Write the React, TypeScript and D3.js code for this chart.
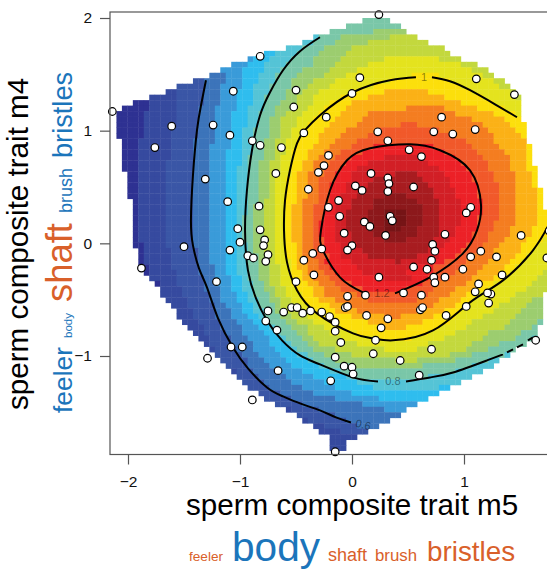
import React, { useRef, useEffect } from "react";
import * as d3 from "d3";

// surface, row by row from the top.
// each row: first column, then runs of "level + column where the run stops"
const heatRows = [
  "46 h51",
  "43 h53",
  "40 h48 i54",
  "37 g38 h42 i51 j56",
  "35 g37 h41 i47 j58",
  "32 g35 h39 i44 j61",
  "28 f30 g34 h38 i43 j62",
  "25 e26 f29 g33 h37 i42 j50 k60 j64",
  "22 e25 f28 g32 h37 i41 j47 k64 j67",
  "20 e24 f28 g31 h35 i40 j45 k66 j69",
  "18 d21 e24 f27 g30 h34 i39 j43 k55 l60 k68 j70",
  "15 c17 d21 e24 f27 g30 h33 i37 j41 k51 l62 k70 j72",
  "12 c17 d20 e24 f26 g29 h33 i36 j40 k48 l64 k71 j73",
  "10 b12 c17 d20 e23 f26 g29 h32 i35 j38 k44 l50 m58 l66 k73 j74",
  "7 b12 c17 d20 e23 f26 g28 h32 i34 j37 k42 l47 m61 l68 k74 j75",
  "4 a7 b12 c17 d20 e23 f26 g28 h31 i34 j37 k40 l44 m64 l70 k75",
  "2 a7 b12 c16 d19 e23 f25 g28 h30 i33 j36 k39 l43 m54 n61 m67 l72 k75",
  "1 a6 b12 c16 d19 e22 f25 g27 h30 i32 j35 k38 l42 m47 n63 m70 l74 k75",
  "1 a6 b12 c16 d19 e22 f25 g27 h29 i31 j34 k37 l41 m46 n66 m72 l75",
  "1 a6 b12 c16 d19 e22 f25 g27 h29 i31 j34 k36 l40 m45 n53 o56 n68 m73 l76",
  "1 a6 b11 c16 d19 e22 f24 g26 h29 i31 j33 k35 l39 m43 n49 o60 n69 m74 l76",
  "1 a6 b11 c16 d19 e22 f24 g26 h29 i31 j33 k35 l38 m42 n47 o63 n70 m75 l76",
  "2 a5 b11 c15 d19 e22 f24 g26 h28 i30 j32 k34 l38 m41 n45 o65 n70 m76",
  "2 a5 b11 c15 d18 e22 f24 g26 h28 i30 j32 k34 l37 m40 n44 o48 p59 o66 n71 m76 l77",
  "2 a5 b11 c15 d18 e21 f24 g26 h28 i30 j32 k33 l36 m39 n42 o46 p61 o67 n72 m76 l77",
  "2 a5 b11 c15 d18 e21 f24 g25 h28 i30 j31 k33 l36 m38 n41 o44 p50 q56 p63 o68 n73 m76 l77",
  "2 a5 b10 c15 d18 e21 f24 g25 h27 i29 j31 k33 l35 m37 n40 o43 p47 q58 p64 o69 n73 m76 l77",
  "2 a5 b10 c15 d18 e21 f23 g25 h27 i29 j31 k33 l35 m37 n39 o42 p45 q60 p65 o69 n73 m76 l78",
  "3 a5 b10 c15 d18 e21 f23 g25 h27 i29 j31 k33 l34 m36 n39 o41 p44 q52 r56 q61 p66 o70 n74 m77 l78",
  "3 a5 b10 c15 d18 e21 f23 g25 h27 i29 j30 k32 l34 m36 n38 o41 p44 q48 r57 q62 p66 o70 n74 m77 l78",
  "3 a5 b10 c15 d18 e21 f23 g25 h27 i29 j30 k32 l34 m36 n38 o40 p43 q47 r58 q62 p67 o71 n74 m77 l78",
  "3 a5 b10 c15 d18 e21 f23 g25 h27 i29 j30 k32 l34 m36 n38 o40 p43 q46 r59 q63 p67 o71 n74 m78 l79",
  "3 a5 b10 c15 d18 e21 f23 g25 h27 i29 j30 k32 l34 m36 n38 o40 p42 q45 r50 s54 r59 q63 p67 o71 n74 m78 l79",
  "4 a5 b10 c15 d18 e21 f23 g25 h27 i28 j30 k32 l34 m35 n38 o40 p41 q44 r48 s56 r60 q64 p68 o71 n74 m78 l79",
  "4 a5 b10 c15 d18 e21 f23 g25 h26 i28 j30 k32 l33 m35 n37 o39 p41 q44 r48 s57 r60 q64 p68 o71 n74 m78 l79",
  "4 a5 b10 c15 d18 e21 f23 g25 h26 i28 j30 k32 l33 m35 n37 o39 p41 q43 r47 s50 t54 s57 r60 q64 p68 o71 n74 m78 l80",
  "4 a5 b10 c15 d18 e21 f23 g24 h26 i28 j30 k32 l33 m35 n37 o39 p41 q43 r47 s50 t54 s57 r60 q64 p67 o71 n74 m78 l80",
  "4 a5 b10 c15 d18 e21 f23 g24 h26 i28 j30 k32 l33 m35 n37 o38 p41 q43 r47 s50 t54 s57 r60 q64 p67 o70 n74 m78 l80",
  "4 a5 b10 c15 d18 e21 f23 g24 h26 i28 j30 k32 l33 m35 n37 o38 p41 q43 r47 s50 t53 s56 r60 q63 p67 o70 n73 m77 l80",
  "4 a5 b10 c15 d18 e21 f23 g24 h26 i28 j30 k32 l33 m35 n37 o38 p41 q44 r48 s56 r60 q63 p66 o69 n73 m77 l80",
  "4 a5 b10 c15 d18 e21 f23 g24 h26 i28 j30 k32 l33 m35 n37 o39 p41 q44 r50 s54 r59 q62 p66 o69 n72 m76 l79 k80",
  "4 a6 b10 c15 d18 e21 f23 g25 h26 i28 j30 k32 l34 m35 n37 o39 p42 q45 r58 q61 p65 o68 n71 m75 l78 k80",
  "5 a6 b11 c16 d18 e21 f23 g25 h26 i28 j30 k32 l34 m35 n37 o39 p42 q46 r58 q60 p64 o67 n70 m75 l77 k80",
  "5 a6 b11 c16 d18 e21 f23 g25 h27 i28 j30 k32 l34 m35 n37 o40 p42 q47 r56 q60 p63 o66 n70 m74 l76 k80",
  "5 a6 b11 c16 d18 e21 f23 g25 h27 i29 j30 k33 l34 m35 n38 o39 p44 q52 r53 q58 p61 o65 n69 m73 l75 k80",
  "5 a7 b11 c16 d19 e21 f23 g25 h27 i29 j31 k33 l34 m36 n38 o40 p45 q56 p59 o64 n68 m72 l74 k80",
  "6 a7 b12 c16 d19 e21 f23 g25 h27 i29 j31 k33 l35 m36 n39 o41 p46 q54 p59 o63 n67 m71 l73 k79 j80",
  "7 b12 c17 d19 e22 f24 g25 h27 i29 j31 k33 l35 m37 n40 o42 p49 q55 p58 o62 n66 m70 l72 k78 j80",
  "8 a9 b12 c17 d19 e22 f24 g26 h28 i29 j31 k33 l36 m38 n41 o44 p57 o60 n65 m68 l70 k77 j80",
  "9 b13 c17 d20 e22 f24 g26 h28 i30 j32 k34 l37 m39 n42 o46 p54 o59 n63 m67 l69 k76 j80",
  "9 b13 c18 d20 e23 f25 g26 h29 i30 j32 k35 l37 m39 n45 o58 n62 m65 l67 k74 j79",
  "10 b14 c18 d20 e23 f25 g27 h29 i31 j33 k35 l38 m41 n47 o56 n60 m64 l66 k73 j77 i79",
  "11 b14 c19 d21 e24 f26 g27 h30 i31 j34 k36 l40 m43 n59 m63 l65 k71 j76 i79",
  "12 b15 c19 d22 e24 f26 g28 h30 i32 j35 k37 l41 m45 n56 m61 l64 k70 j75 i79",
  "12 b15 c19 d22 e25 f27 g28 h31 i33 j36 k38 l44 m50 n53 m59 l63 k68 j74 i79",
  "13 b16 c20 d23 e26 f28 g29 h32 i34 j37 k40 l47 m57 l62 k66 j73 i78 h79",
  "14 b17 c20 d24 e27 f29 g30 h33 i36 j39 k42 l50 m54 l60 k65 j72 i77 h78",
  "15 b17 c21 d24 e28 f30 g31 h34 i36 j40 k45 l58 k63 j69 i75 h78",
  "16 b18 c22 d25 e29 f31 g32 h35 i37 j42 k49 l55 k61 j68 i74 h77 g78",
  "17 b18 c22 d26 e29 f32 g33 h36 i38 j45 k58 j66 i71 h76",
  "18 b19 c23 d26 e30 f33 g34 h37 i41 j50 k56 j65 i69 h74",
  "19 c24 d27 e31 f34 g36 h39 i44 j62 i66 h72 g73",
  "20 c25 d28 e32 f36 g37 h41 i52 j56 i63 h69 g71",
  "21 c25 d29 e33 f38 g39 h44 i57 h66 g70",
  "22 b23 c26 d31 e35 f40 g42 h63 g68",
  "23 c27 d32 e37 f43 g44 h58 g66",
  "24 c28 d33 e39 f45 g64",
  "25 c29 d35 e41 f48 g60 f62",
  "27 c31 d37 e44 f60",
  "28 c33 d41 e49 f58",
  "30 c35 d46 e56",
  "32 b33 c38 d50 e54",
  "34 c41 d53",
  "35 b36 c43 d51",
  "37 b39 c45 d49",
  "38 b42 c47",
  "40 b45",
  "40 b43",
  "40 b43",
];

const levelNames = "abcdefghijklmnopqrst".split("");
const levelColors = [
  "#2e3192", "#364a9f", "#3a56a6", "#3c74ba", "#3a9bd9", "#2fbdee", "#55c4d6",
  "#7ac7a8", "#9ccd6f", "#c3d83d", "#e4e31e", "#fcdf0c", "#fbb116", "#f47d20",
  "#f1592a", "#ec2127", "#d21f26", "#a81c20", "#8c181b", "#761416",
];

const gridLeft = -2.152;
const gridTop = 2.0;
const gridStepX = 0.0488;
const gridStepY = 0.0486;

// contour pieces, [m5, m4]
const contour06 = [
  [-1.304, 1.448], [-1.348, 1.226], [-1.384, 1.004], [-1.42, 0.604], [-1.438, 0.204],
  [-1.42, -0.018], [-1.366, -0.222], [-1.295, -0.391], [-1.196, -0.666], [-1.063, -0.924],
  [-0.929, -1.11], [-0.759, -1.279], [-0.616, -1.359], [-0.464, -1.421], [-0.286, -1.483],
  [-0.143, -1.545], [-0.009, -1.59],
];
const contour08a = [
  [-0.286, 1.829], [-0.464, 1.705], [-0.616, 1.536], [-0.732, 1.341], [-0.821, 1.137],
  [-0.893, 0.826], [-0.938, 0.471], [-0.955, 0.115], [-0.929, -0.24], [-0.857, -0.488],
  [-0.759, -0.684], [-0.625, -0.861], [-0.464, -0.995], [-0.286, -1.075], [0.009, -1.19],
  [0.232, -1.226],
];
const contour08b = [
  [0.482, -1.226], [0.696, -1.19], [0.902, -1.146], [1.205, -1.039], [1.348, -0.986],
];
const contour08c = [[1.384, -0.968], [1.438, -0.941]];
const contour08d = [[1.473, -0.924], [1.527, -0.897]];
const contour08e = [[1.571, -0.861], [1.616, -0.835]];
const contour10a = [
  [0.714, 1.474], [0.875, 1.439], [1.054, 1.359], [1.277, 1.234], [1.473, 1.119],
];
const contour10b = [
  [0.571, 1.474], [0.339, 1.448], [0.009, 1.341], [-0.286, 1.137], [-0.42, 1.004],
  [-0.491, 0.888], [-0.554, 0.648], [-0.598, 0.382], [-0.607, 0.115], [-0.58, -0.169],
  [-0.491, -0.417], [-0.313, -0.622], [0.009, -0.799], [0.188, -0.844], [0.366, -0.861],
  [0.723, -0.773], [1.054, -0.524], [1.348, -0.329], [1.616, -0.062], [1.75, 0.151],
];
const contour12 = [
  [0.384, -0.444], [0.696, -0.302], [0.991, -0.089], [1.116, 0.115], [1.152, 0.337],
  [1.054, 0.648], [0.786, 0.826], [0.518, 0.879], [0.161, 0.844], [-0.045, 0.737],
  [-0.196, 0.471], [-0.277, 0.115], [-0.259, -0.062], [-0.107, -0.302], [0.098, -0.435],
];
const contours = [
  contour06, contour08a, contour08b, contour08c, contour08d, contour08e,
  contour10a, contour10b, contour12,
];

const contourLabels = ["0.6", "0.8", "1", "1.2"];
const contourLabelX = [0.1, 0.365, 0.643, 0.268];
const contourLabelY = [-1.61, -1.226, 1.474, -0.445];

// males, [m5, m4]
const males = [
  [-0.82, 1.66], [-1.06, 1.35], [-0.5, 1.36], [-0.52, 1.21], [-0.23, 1.12], [-2.14, 1.17],
  [-1.61, 1.04], [-1.76, 0.85], [-1.24, 1.05], [-1.09, 0.96], [-0.89, 0.91], [-0.82, 0.87],
  [-0.63, 0.85], [-0.43, 0.98], [-0.21, 0.78], [-0.25, 0.69], [-0.3, 0.63], [-0.68, 0.62],
  [-1.31, 0.57], [-0.39, 0.48], [-1.11, 0.37], [-0.83, 0.33], [-0.21, 0.32], [-1.02, 0.13],
  [-0.82, 0.12], [0.24, 2.03], [0.07, 1.47], [0, 1.33], [1.11, 1.46], [1.45, 1.32],
  [0.8, 1.12], [0.23, 0.99], [0.73, 0.99], [0.9, 0.97], [1.1, 1.01], [0.32, 0.91],
  [0.51, 0.83], [0.62, 0.77], [0.17, 0.62], [0.32, 0.58], [0.33, 0.53], [0.32, 0.46],
  [0.03, 0.51], [0.09, 0.47], [0.55, 0.5], [-0.12, 0.38], [-0.11, 0.24], [1.06, 0.32],
  [1.02, 0.27], [0.34, 0.24], [0.36, 0.2], [0.11, 0.19], [0.16, 0.15], [-1.5, -0.03],
  [-1.88, -0.22], [-1, 0.01], [-1.09, -0.06], [-0.78, 0.03], [-0.79, -0.02], [-0.93, -0.11],
  [-0.88, -0.13], [-0.75, -0.1], [-0.77, -0.16], [-0.27, -0.05], [-0.35, -0.09], [-0.43, -0.15],
  [-0.34, -0.28], [-1.21, -0.34], [-0.5, -0.34], [-0.75, -0.6], [-0.77, -0.69], [-0.67, -0.77],
  [-0.61, -0.61], [-0.54, -0.57], [-0.49, -0.57], [-0.44, -0.62], [-0.37, -0.6], [-0.27, -0.61],
  [-0.2, -0.65], [-1.08, -0.92], [-0.98, -0.92], [-1.29, -1.02], [-0.66, -1.13], [-0.89, -1.39],
  [-0.19, -1.22], [-0.07, 0.09], [0.3, 0.07], [0.83, 0.08], [1.51, 0.07], [0.72, -0.01],
  [0.74, -0.07], [0, -0.02], [-0.04, -0.06], [0.71, -0.15], [1.06, -0.12], [1.15, -0.07],
  [1.29, -0.12], [1.74, -0.13], [0.55, -0.21], [0.67, -0.23], [0.99, -0.23], [1.34, -0.28],
  [0.73, -0.3], [0.83, -0.3], [0.74, -0.35], [0.24, -0.3], [1.13, -0.36], [1.1, -0.43],
  [1.24, -0.45], [1.21, -0.44], [0.12, -0.46], [-0.04, -0.47], [0.46, -0.44], [0.62, -0.46],
  [1.22, -0.53], [1.02, -0.56], [0.61, -0.59], [0.63, -0.57], [-0.06, -0.57], [-0.04, -0.56],
  [-0.15, -0.7], [0.13, -0.64], [0.32, -0.67], [0.84, -0.64], [-0.15, -0.78], [0.26, -0.75],
  [-0.1, -0.88], [0.21, -0.86], [1.64, -0.86], [-0.15, -1.01], [0.19, -0.98], [0.71, -0.94],
  [0.43, -1.04], [-0.07, -1.09], [0, -1.1], [0.01, -1.16], [0.6, -1.17], [-0.15, -1.85],
  [1.76, 0.11],
];

const xTicks = [-2, -1, 0, 1];
const yTicks = [-1, 0, 1, 2];

const blue = "#1b75bb";
const orange = "#d9602a";
const xWords = ["feeler", "body", "shaft", "brush", "bristles"];
const xWordSizes = [13.6, 40.6, 18, 16.8, 27.8];
const xWordStart = [189, 232, 328, 375, 427];
const xWordColors = [orange, blue, orange, orange, orange];
const yWords = ["feeler", "body", "shaft", "brush", "bristles"];
const yWordSizes = [26.4, 11.5, 36.4, 18, 27.2];
const yWordStart = [413, 338, 302, 213, 158];
const yWordColors = [blue, blue, orange, blue, blue];

const font = "'Liberation Sans', Arial, sans-serif";

export default function App() {
  const ref = useRef<SVGSVGElement>(null);

  useEffect(() => {
    const svg = d3.select(ref.current);
    svg.selectAll("*").remove();

    const x = d3.scaleLinear().domain([-2, 1]).range([128, 464]);
    const y = d3.scaleLinear().domain([-1, 2]).range([356, 18]);
    const color = d3.scaleOrdinal<string, string>().domain(levelNames).range(levelColors);

    // unpack the rows into cells
    const cells: { col: number; row: number; level: string }[] = [];
    heatRows.forEach((text, row) => {
      const parts = text.split(" ");
      let col = +parts[0];
      parts.slice(1).forEach((p) => {
        const end = +p.slice(1);
        for (; col < end; col++) cells.push({ col, row, level: p[0] });
      });
    });

    svg
      .append("g")
      .selectAll("rect")
      .data(cells)
      .enter()
      .append("rect")
      .attr("x", (d) => x(gridLeft + d.col * gridStepX))
      .attr("y", (d) => y(gridTop - d.row * gridStepY))
      .attr("width", x(gridStepX) - x(0) + 0.4)
      .attr("height", y(0) - y(gridStepY) + 0.4)
      .attr("fill", (d) => color(d.level));

    const line = d3
      .line<number[]>()
      .x((d) => x(d[0]))
      .y((d) => y(d[1]))
      .curve(d3.curveNatural);

    svg
      .append("g")
      .selectAll("path")
      .data(contours)
      .enter()
      .append("path")
      .attr("d", (d) => line(d))
      .attr("fill", "none")
      .attr("stroke", "#000")
      .attr("stroke-width", 2);

    svg
      .append("g")
      .selectAll("text")
      .data(contourLabels)
      .enter()
      .append("text")
      .attr("x", (d, i) => x(contourLabelX[i]))
      .attr("y", (d, i) => y(contourLabelY[i]))
      .attr("dy", "0.35em")
      .attr("text-anchor", "middle")
      .attr("font-family", font)
      .attr("font-size", 11)
      .attr("fill", "#000")
      .attr("fill-opacity", 0.45)
      .attr("transform", (d, i) =>
        i === 0 ? `rotate(14 ${x(contourLabelX[i])} ${y(contourLabelY[i])})` : null
      )
      .text((d) => d);

    svg
      .append("g")
      .selectAll("circle")
      .data(males)
      .enter()
      .append("circle")
      .attr("cx", (d) => x(d[0]))
      .attr("cy", (d) => y(d[1]))
      .attr("r", 3.8)
      .attr("fill", "#fff")
      .attr("stroke", "#000")
      .attr("stroke-width", 1.2);

    // frame runs off the right of the page
    svg
      .append("rect")
      .attr("x", 110)
      .attr("y", 12)
      .attr("width", 460)
      .attr("height", 442.5)
      .attr("fill", "none")
      .attr("stroke", "#555")
      .attr("stroke-width", 1.2);

    const tickFormat = d3.format("d");
    const xAxis = d3
      .axisBottom(x)
      .tickValues(xTicks)
      .tickFormat(tickFormat)
      .tickSize(10)
      .tickSizeOuter(0)
      .tickPadding(11);
    const yAxis = d3
      .axisLeft(y)
      .tickValues(yTicks)
      .tickFormat(tickFormat)
      .tickSize(10)
      .tickSizeOuter(0)
      .tickPadding(8);

    svg
      .append("g")
      .attr("transform", "translate(0,454.5)")
      .call(xAxis)
      .call((g) => g.select(".domain").remove());
    svg
      .append("g")
      .attr("transform", "translate(110,0)")
      .call(yAxis)
      .call((g) => g.select(".domain").remove());
    svg.selectAll(".tick line").attr("stroke", "#555").attr("stroke-width", 1.2);
    svg
      .selectAll(".tick text")
      .attr("font-family", font)
      .attr("font-size", 15.5)
      .attr("fill", "#111");

    svg
      .append("text")
      .attr("x", 186)
      .attr("y", 515)
      .attr("font-family", font)
      .attr("font-size", 29.6)
      .attr("fill", "#000")
      .text("sperm composite trait m5");
    svg
      .append("text")
      .attr("transform", "translate(28,410) rotate(-90)")
      .attr("font-family", font)
      .attr("font-size", 29.6)
      .attr("fill", "#000")
      .text("sperm composite trait m4");

    svg
      .append("g")
      .selectAll("text")
      .data(xWords)
      .enter()
      .append("text")
      .attr("x", (d, i) => xWordStart[i])
      .attr("y", 561)
      .attr("font-family", font)
      .attr("font-size", (d, i) => xWordSizes[i])
      .attr("fill", (d, i) => xWordColors[i])
      .text((d) => d);

    svg
      .append("g")
      .selectAll("text")
      .data(yWords)
      .enter()
      .append("text")
      .attr("transform", (d, i) => `translate(72,${yWordStart[i]}) rotate(-90)`)
      .attr("font-family", font)
      .attr("font-size", (d, i) => yWordSizes[i])
      .attr("fill", (d, i) => yWordColors[i])
      .text((d) => d);
  }, []);

  return (
    <svg
      ref={ref}
      width={547}
      height={570}
      style={{ position: "absolute", left: 0, top: 0, display: "block" }}
    />
  );
}
